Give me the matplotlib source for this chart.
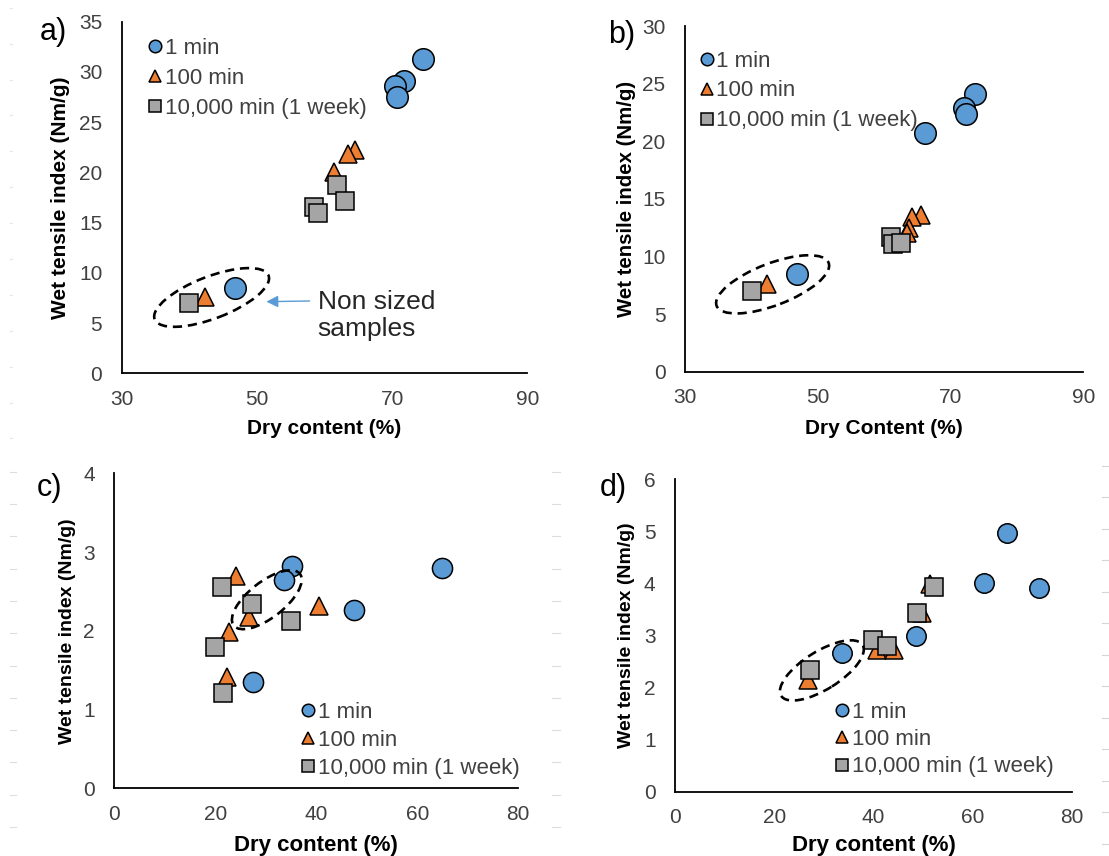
import matplotlib
matplotlib.use("Agg")
import matplotlib.pyplot as plt
from matplotlib.patches import Ellipse
from matplotlib.lines import Line2D
from matplotlib.transforms import ScaledTranslation

plt.rcParams['font.family'] = ['Liberation Sans', 'DejaVu Sans']

# ---------------- data ----------------
series_labels = ["1 min", "100 min", "10,000 min (1 week)"]

a_circ_x = [74.5, 71.8, 70.4, 70.7, 46.7]
a_circ_y = [31.3, 29.1, 28.6, 27.5, 8.5]
a_tri_x = [64.5, 63.5, 61.4, 42.3]
a_tri_y = [22.2, 21.8, 20.0, 7.6]
a_sq_x = [61.8, 58.5, 59.1, 63.0, 40.0]
a_sq_y = [18.7, 16.6, 15.95, 17.2, 7.0]

b_circ_x = [73.7, 72.0, 72.4, 66.2, 46.9]
b_circ_y = [24.1, 22.9, 22.4, 20.7, 8.5]
b_tri_x = [65.5, 64.2, 63.7, 63.4, 42.3]
b_tri_y = [13.6, 13.4, 12.5, 12.0, 7.6]
b_sq_x = [61.0, 61.3, 62.6, 40.05]
b_sq_y = [11.7, 11.1, 11.2, 7.0]

c_circ_x = [35.2, 33.55, 64.8, 47.5, 27.5]
c_circ_y = [2.82, 2.65, 2.80, 2.26, 1.35]
c_tri_x = [24.1, 40.5, 26.6, 22.8, 22.3]
c_tri_y = [2.69, 2.31, 2.18, 1.99, 1.41]
c_sq_x = [21.4, 27.3, 34.9, 20.0, 21.6]
c_sq_y = [2.55, 2.34, 2.12, 1.80, 1.21]

d_circ_x = [67.0, 62.2, 73.3, 48.5, 33.6]
d_circ_y = [4.96, 4.00, 3.92, 2.99, 2.66]
d_tri_x = [51.3, 49.8, 40.7, 44.2, 26.8]
d_tri_y = [3.98, 3.43, 2.73, 2.73, 2.14]
d_sq_x = [52.2, 48.7, 40.0, 42.8, 27.3]
d_sq_y = [3.94, 3.44, 2.91, 2.79, 2.34]

xticks_ab = [30, 50, 70, 90]
xticks_cd = [0, 20, 40, 60, 80]
yticks_a = [0, 5, 10, 15, 20, 25, 30, 35]
yticks_b = [0, 5, 10, 15, 20, 25, 30]
yticks_c = [0, 1, 2, 3, 4]
yticks_d = [0, 1, 2, 3, 4, 5, 6]

BLUE = "#5B9BD5"
ORANGE = "#ED7D31"
GRAY = "#A5A5A5"
TICKC = "#404040"

W, H = 1109, 856
fig = plt.figure(figsize=(W / 100, H / 100), dpi=100)


def px_axes(left, right, top, bottom):
    return fig.add_axes([left / W, 1 - bottom / H, (right - left) / W, (bottom - top) / H])


def style_axes(ax, xlim, ylim, xt, yt, xlabel, ylabel, xl_y, yl_x, xl_size, yl_size):
    ax.set_xlim(*xlim)
    ax.set_ylim(*ylim)
    ax.set_xticks(xt)
    ax.set_yticks(yt)
    for s in ["top", "right"]:
        ax.spines[s].set_visible(False)
    for s in ["left", "bottom"]:
        ax.spines[s].set_linewidth(1.3)
        ax.spines[s].set_color("black")
    ax.tick_params(axis="both", length=0, labelsize=15, labelcolor=TICKC)
    ax.tick_params(axis="x", pad=12)
    ax.tick_params(axis="y", pad=14)
    ax.set_xlabel(xlabel, fontsize=xl_size, fontweight="bold")
    ax.set_ylabel(ylabel, fontsize=yl_size, fontweight="bold")
    ax.xaxis.label.set_va("center")
    ax.yaxis.label.set_va("center")
    ax.xaxis.set_label_coords(0.5, xl_y)
    ax.yaxis.set_label_coords(yl_x, 0.5)
    ax.set_facecolor("none")


def plot_series(ax, cx, cy, tx, ty, sx, sy, ms_c, ms_t, ms_s):
    ax.plot(cx, cy, ls="none", marker="o", ms=ms_c, mfc=BLUE, mec="black", mew=1.1, zorder=3)
    ax.plot(tx, ty, ls="none", marker="^", ms=ms_t, mfc=ORANGE, mec="black", mew=1.1, zorder=4)
    ax.plot(sx, sy, ls="none", marker="s", ms=ms_s, mfc=GRAY, mec="black", mew=1.1, zorder=5)


def add_legend(ax, x, y, spacing):
    handles = [
        Line2D([], [], ls="none", marker="o", ms=9, mfc=BLUE, mec="black", mew=1.1),
        Line2D([], [], ls="none", marker="^", ms=9, mfc=ORANGE, mec="black", mew=1.1),
        Line2D([], [], ls="none", marker="s", ms=9, mfc=GRAY, mec="black", mew=1.1),
    ]
    leg = ax.legend(handles, series_labels, loc="upper left", bbox_to_anchor=(x, y),
                    frameon=False, fontsize=16, handlelength=0.65, handletextpad=0.12,
                    borderpad=0, borderaxespad=0, labelspacing=spacing, labelcolor=TICKC)
    return leg


def add_ellipse(ax, cx, cy, a_px, b_px, angle):
    e = Ellipse((0, 0), 2 * a_px / 100, 2 * b_px / 100, angle=angle, fill=False,
                edgecolor="black", lw=1.9, linestyle=(0, (3.5, 2.2)),
                transform=fig.dpi_scale_trans + ScaledTranslation(cx, cy, ax.transData),
                zorder=6, clip_on=False)
    ax.add_patch(e)


# ---------------- panel a ----------------
ax_a = px_axes(121.7, 527.3, 21.7, 373.3)
plot_series(ax_a, a_circ_x, a_circ_y, a_tri_x, a_tri_y, a_sq_x, a_sq_y, 15.5, 13.5, 13.5)
style_axes(ax_a, (30, 90), (0, 35), xticks_ab, yticks_a, "Dry content (%)",
           "Wet tensile index (Nm/g)", -0.156, -0.150, 15, 15)
add_legend(ax_a, 0.064, 0.953, 0.40)
add_ellipse(ax_a, 43.3, 7.55, 61, 21, 21)
ax_a.annotate("", xy=(51.4, 7.13), xytext=(57.8, 7.2),
              arrowprops=dict(arrowstyle="-|>,head_length=0.7,head_width=0.35",
                              color=BLUE, lw=1.0, shrinkA=0, shrinkB=0))
ax_a.text(59.0, 5.75, "Non sized\nsamples", fontsize=19, color="#262626",
          ha="left", va="center", linespacing=1.2)

# ---------------- panel b ----------------
ax_b = px_axes(685, 1083.3, 26, 371.7)
plot_series(ax_b, b_circ_x, b_circ_y, b_tri_x, b_tri_y, b_sq_x, b_sq_y, 15.5, 13.5, 13.5)
style_axes(ax_b, (30, 90), (0, 30), xticks_ab, yticks_b, "Dry Content (%)",
           "Wet tensile index (Nm/g)", -0.163, -0.147, 15, 14.7)
add_legend(ax_b, 0.036, 0.929, 0.40)
add_ellipse(ax_b, 43.2, 7.58, 60, 21, 21)

# ---------------- panel c ----------------
ax_c = px_axes(114.3, 518.3, 473.3, 788.3)
plot_series(ax_c, c_circ_x, c_circ_y, c_tri_x, c_tri_y, c_sq_x, c_sq_y, 14.5, 13, 13)
style_axes(ax_c, (0, 80), (0, 4), xticks_cd, yticks_c, "Dry content (%)",
           "Wet tensile index (Nm/g)", -0.180, -0.115, 16, 14)
add_legend(ax_c, 0.462, 0.274, 0.32)
add_ellipse(ax_c, 30.2, 2.395, 42, 18, 38)

# ---------------- panel d ----------------
ax_d = px_axes(675, 1071.9, 479.3, 791.7)
plot_series(ax_d, d_circ_x, d_circ_y, d_tri_x, d_tri_y, d_sq_x, d_sq_y, 14, 13, 13)
style_axes(ax_d, (0, 80), (0, 6), xticks_cd, yticks_d, "Dry content (%)",
           "Wet tensile index (Nm/g)", -0.171, -0.122, 16, 14)
add_legend(ax_d, 0.403, 0.287, 0.28)
add_ellipse(ax_d, 29.6, 2.33, 48, 19, 32)

# ---------------- panel letters ----------------
for lbl, x, y in [("a)", 53.6, 31.7), ("b)", 621.3, 35), ("c)", 50, 488.3), ("d)", 613.3, 488.3)]:
    fig.text(x / W, 1 - y / H, lbl, fontsize=22, ha="center", va="center", color="black")

# ---------------- faint page edge marks ----------------
def hmark(x0, x1, y, color):
    fig.add_artist(Line2D([x0 / W, x1 / W], [1 - y / H, 1 - y / H], color=color, lw=0.8,
                          transform=fig.transFigure))

for i in range(13):
    hmark(10, 12, 7.7 + 35.9 * i, "#e6e6e6")
for i in range(12):
    hmark(10, 16, 471.7 + 32.3 * i, "#dddddd")
    hmark(552, 560, 471.7 + 32.3 * i, "#dddddd")
for i in range(13):
    hmark(1101.7, 1109, 465.7 + 31.5 * i, "#d6d6d6")

fig.savefig("out.png", dpi=100)
